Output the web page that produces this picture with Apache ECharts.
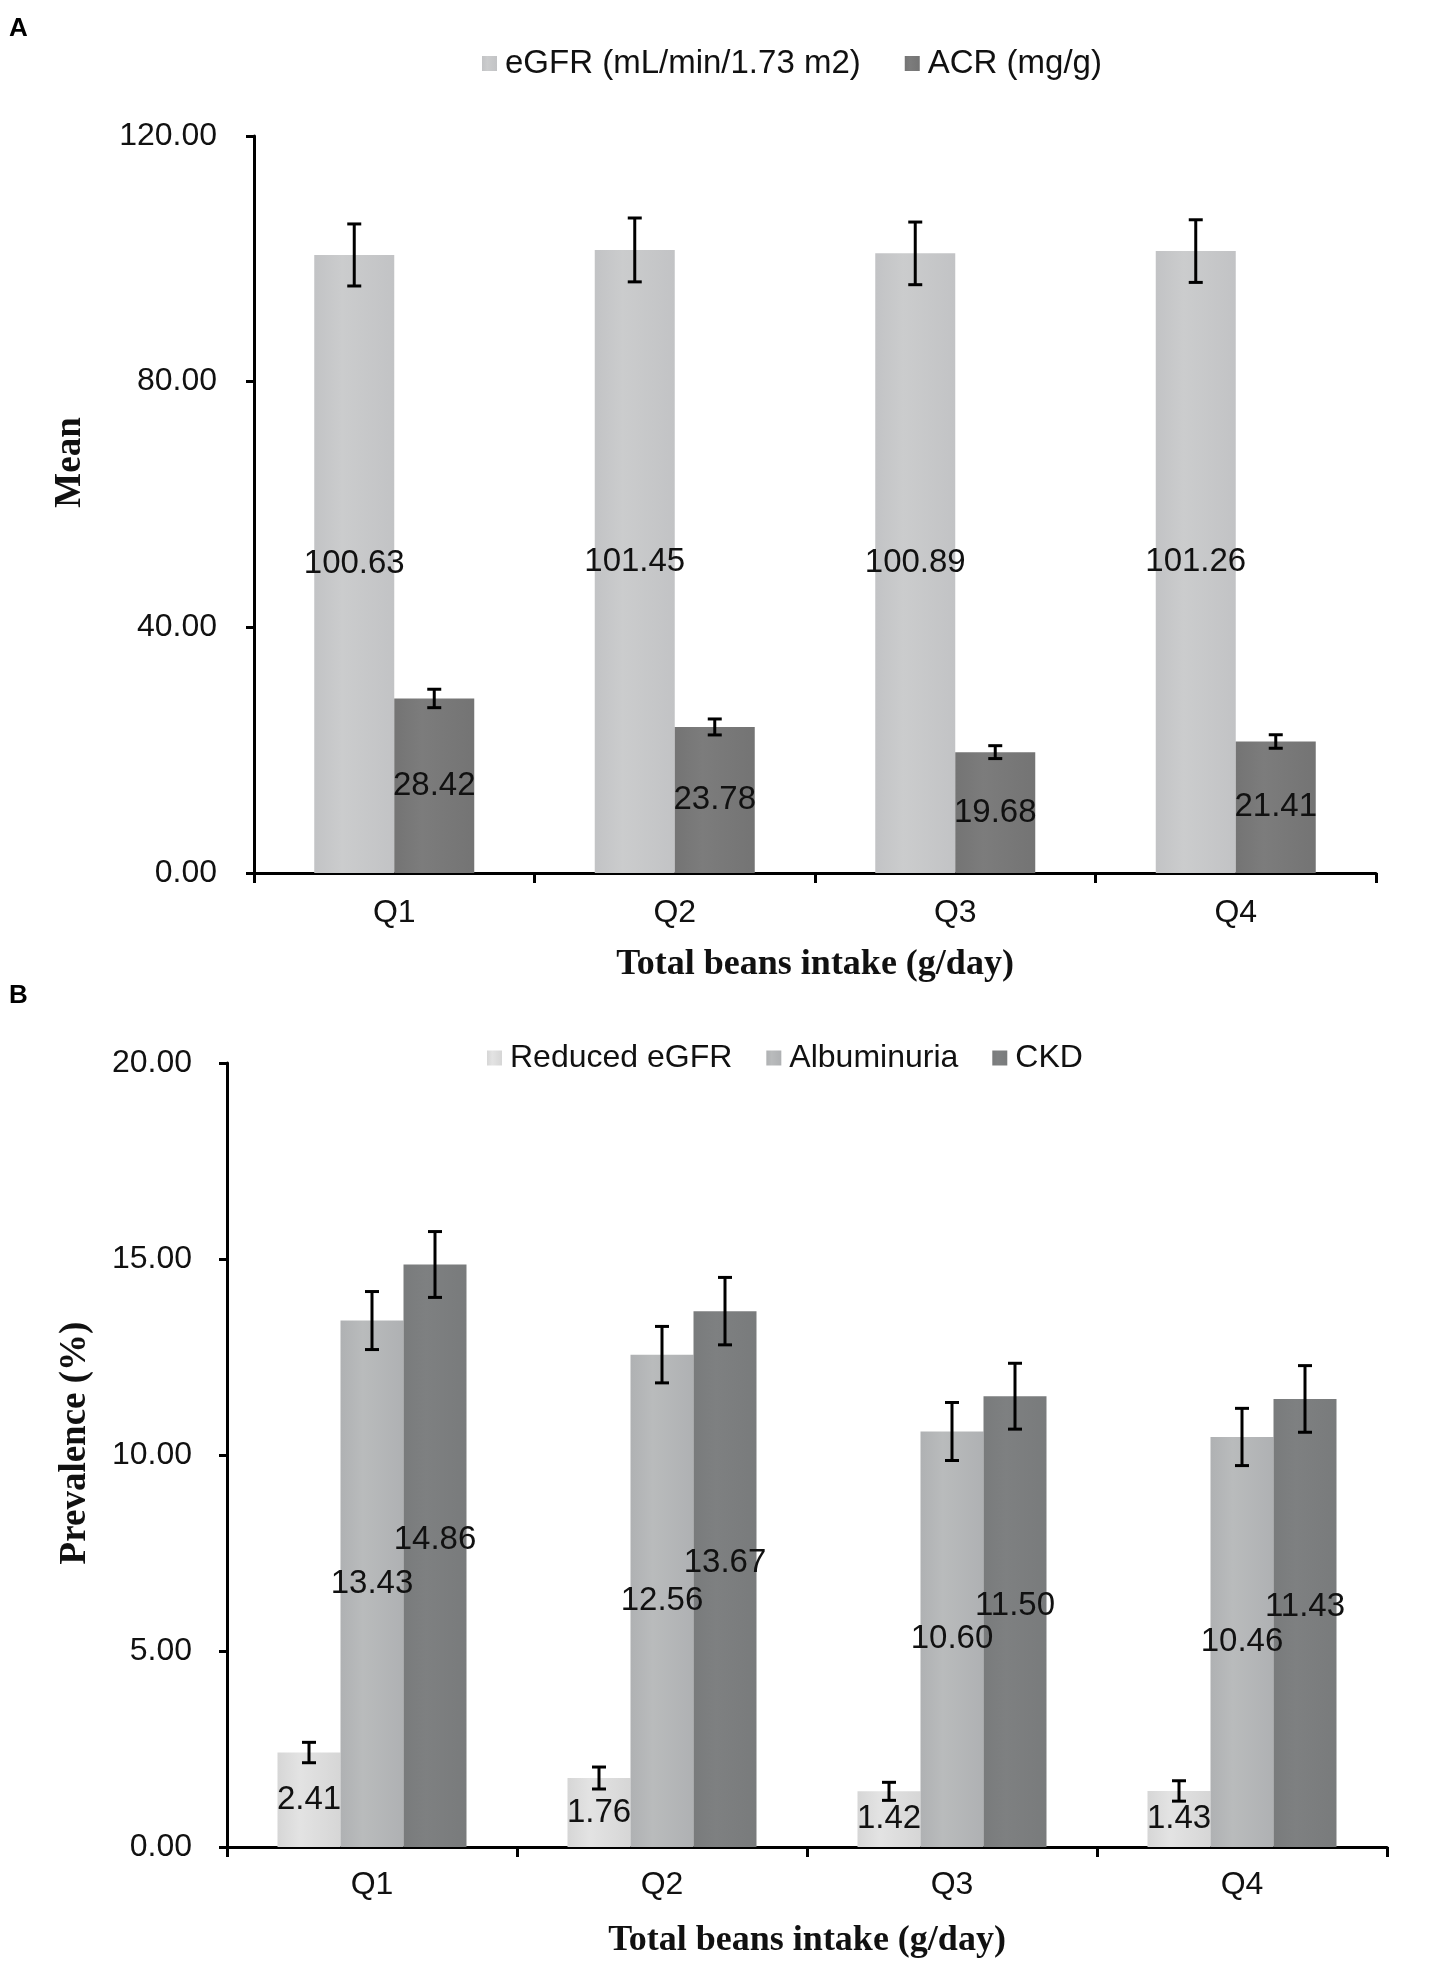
<!DOCTYPE html>
<html>
<head>
<meta charset="utf-8">
<script src="https://cdn.jsdelivr.net/npm/echarts@6/dist/echarts.min.js"></script>
<style>
html,body{margin:0;padding:0;background:#fff;}
#chart{width:1454px;height:1979px;}
</style>
</head>
<body>
<div id="chart"></div>
<script>
// ---------- data ----------
const categories = ['Q1', 'Q2', 'Q3', 'Q4'];
// Panel A
const egfrMean = [100.63, 101.45, 100.89, 101.26];
const egfrErr  = [5.05, 5.2, 5.1, 5.1];
const acrMean  = [28.42, 23.78, 19.68, 21.41];
const acrErr   = [1.5, 1.3, 1.05, 1.1];
// Panel B
const reducedEgfr    = [2.41, 1.76, 1.42, 1.43];
const reducedEgfrErr = [0.26, 0.28, 0.23, 0.26];
const albuminuria    = [13.43, 12.56, 10.60, 10.46];
const albuminuriaErr = [0.74, 0.72, 0.74, 0.73];
const ckd            = [14.86, 13.67, 11.50, 11.43];
const ckdErr         = [0.84, 0.86, 0.84, 0.85];
const ticksA = [0, 40, 80, 120];
const ticksB = [0, 5, 10, 15, 20];

// ---------- styling ----------
const SANS = '"Liberation Sans", Arial, Helvetica, sans-serif';
const SERIF = '"Liberation Serif", "Times New Roman", serif';
const BAR_A = 80, BAR_B = 63;

function grad(c1, c2) {
  return new echarts.graphic.LinearGradient(0, 0, 1, 0, [
    {offset: 0, color: c1}, {offset: 0.35, color: c2}, {offset: 1, color: c1}
  ]);
}
const colA = ['#c2c3c5', '#747474'];
const colB = ['#d6d6d6', '#afb1b3', '#797b7c'];

function barSeries(name, data, xi, color, barW, extraLabel) {
  return {
    name: name, type: 'bar', xAxisIndex: xi, yAxisIndex: xi,
    data: data, barWidth: barW, barGap: '0%',
    itemStyle: {color: color},
    label: Object.assign({
      show: true, position: 'inside', color: '#111',
      fontFamily: SANS, fontSize: 33,
      formatter: p => p.value.toFixed(2)
    }, extraLabel || {}),
    emphasis: {disabled: true}
  };
}

function errSeries(means, errs, xi, k, n, barW) {
  return {
    type: 'custom', xAxisIndex: xi, yAxisIndex: xi, z: 5, silent: true,
    data: means.map((m, i) => [i, m, errs[i]]),
    renderItem: function (params, api) {
      const ci = api.value(0), v = api.value(1), e = api.value(2);
      const c = api.coord([ci, v]);
      const hi = api.coord([ci, v + e]);
      const lo = api.coord([ci, v - e]);
      const x = c[0] + (k - (n - 1) / 2) * barW;
      const cap = 7;
      const st = {stroke: '#000', lineWidth: 3};
      return {type: 'group', children: [
        {type: 'line', shape: {x1: x, y1: hi[1], x2: x, y2: lo[1]}, style: st},
        {type: 'line', shape: {x1: x - cap, y1: hi[1], x2: x + cap, y2: hi[1]}, style: st},
        {type: 'line', shape: {x1: x - cap, y1: lo[1], x2: x + cap, y2: lo[1]}, style: st}
      ]};
    }
  };
}

function yAxisCfg(gi, ticks, name, nameGap, shift, margin) {
  return {
    type: 'value', gridIndex: gi,
    min: ticks[0], max: ticks[ticks.length - 1], interval: ticks[1] - ticks[0],
    splitLine: {show: false},
    axisLine: {show: true, lineStyle: {color: '#000', width: 3}},
    axisTick: {show: true, length: 8, lineStyle: {color: '#000', width: 3}},
    axisLabel: {color: '#111', fontFamily: SANS, fontSize: 32, margin: margin,
      formatter: v => v.toFixed(2)},
    name: name, nameLocation: 'middle', nameGap: nameGap, nameRotate: 90,
    nameTextStyle: {fontFamily: SERIF, fontWeight: 'bold', fontSize: 37, color: '#111',
      padding: [0, 0, 0, shift]}
  };
}

function xAxisCfg(gi, nameGap, margin) {
  return {
    type: 'category', gridIndex: gi, data: categories,
    axisLine: {show: true, lineStyle: {color: '#000', width: 3}},
    axisTick: {show: true, length: 10, alignWithLabel: false, lineStyle: {color: '#000', width: 3}},
    axisLabel: {color: '#111', fontFamily: SANS, fontSize: 32, margin: margin},
    name: 'Total beans intake (g/day)', nameLocation: 'middle', nameGap: nameGap,
    nameTextStyle: {fontFamily: SERIF, fontWeight: 'bold', fontSize: 36, color: '#111'}
  };
}

const chart = echarts.init(document.getElementById('chart'), null, {renderer: 'canvas'});
const option = {
  backgroundColor: '#fff',
  animation: false,
  graphic: [
    {type: 'text', left: 9, top: 16, style: {text: 'A', font: 'bold 26px ' + SANS, fill: '#000'}},
    {type: 'text', left: 9, top: 983, style: {text: 'B', font: 'bold 26px ' + SANS, fill: '#000'}}
  ],
  legend: [
    {data: ['eGFR (mL/min/1.73 m2)', 'ACR (mg/g)'], left: 482, top: 47, padding: 0,
     itemWidth: 15, itemHeight: 15, itemGap: 44, icon: 'rect',
     textStyle: {fontFamily: SANS, fontSize: 33, color: '#111', padding: [0, 0, 0, 3]}},
    {data: ['Reduced eGFR', 'Albuminuria', 'CKD'], left: 487, top: 1042, padding: 0,
     itemWidth: 15, itemHeight: 15, itemGap: 34, icon: 'rect',
     textStyle: {fontFamily: SANS, fontSize: 32, color: '#111', padding: [0, 0, 0, 3]}}
  ],
  grid: [
    {left: 254, right: 78, top: 136, height: 737},
    {left: 227, right: 67, top: 1063, height: 784}
  ],
  xAxis: [xAxisCfg(0, 74, 24), xAxisCfg(1, 76, 22)],
  yAxis: [yAxisCfg(0, ticksA, 'Mean', 165, 84, 37), yAxisCfg(1, ticksB, 'Prevalence (%)', 133, 24, 35)],
  series: [
    barSeries('eGFR (mL/min/1.73 m2)', egfrMean, 0, grad(colA[0], '#cbcccd'), BAR_A),
    barSeries('ACR (mg/g)', acrMean, 0, grad(colA[1], '#7c7c7c'), BAR_A),
    barSeries('Reduced eGFR', reducedEgfr, 1, grad(colB[0], '#e3e3e3'), BAR_B),
    barSeries('Albuminuria', albuminuria, 1, grad(colB[1], '#b9bbbc'), BAR_B),
    barSeries('CKD', ckd, 1, grad(colB[2], '#7e8081'), BAR_B, {offset: [0, -16]}),
    errSeries(egfrMean, egfrErr, 0, 0, 2, BAR_A),
    errSeries(acrMean, acrErr, 0, 1, 2, BAR_A),
    errSeries(reducedEgfr, reducedEgfrErr, 1, 0, 3, BAR_B),
    errSeries(albuminuria, albuminuriaErr, 1, 1, 3, BAR_B),
    errSeries(ckd, ckdErr, 1, 2, 3, BAR_B)
  ]
};
chart.setOption(option);
</script>
</body>
</html>
